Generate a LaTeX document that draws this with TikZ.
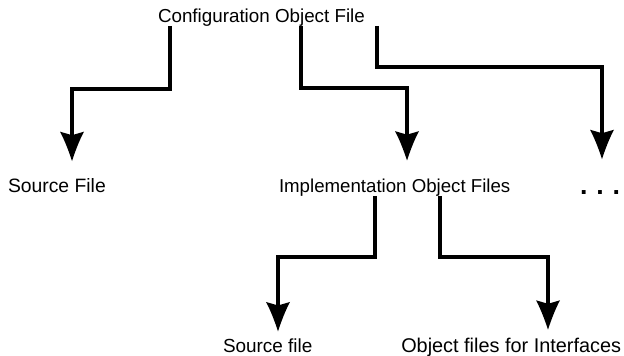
\documentclass[tikz,border=0pt]{standalone}
\usepackage{fontspec}
\setmainfont{Liberation Sans}
\usetikzlibrary{arrows.meta,calc}

% Filled arrow head with slightly concave flanks and a shallow notch at the back
\pgfdeclarearrow{
  name = Barb,
  parameters = {\the\pgfarrowlength,\the\pgfarrowwidth},
  setup code = {
    \pgfarrowssettipend{0pt}
    \pgfarrowssetlineend{-.7\pgfarrowlength}
    \pgfarrowssetbackend{-\pgfarrowlength}
    \pgfarrowshullpoint{0pt}{0pt}
    \pgfarrowshullpoint{-\pgfarrowlength}{.5\pgfarrowwidth}
    \pgfarrowshullpoint{-\pgfarrowlength}{-.5\pgfarrowwidth}
    \pgfarrowssavethe\pgfarrowlength
    \pgfarrowssavethe\pgfarrowwidth
  },
  drawing code = {
    \pgfpathmoveto{\pgfqpoint{0pt}{0pt}}
    \pgfpathcurveto{\pgfpoint{-.3\pgfarrowlength}{.12\pgfarrowwidth}}
                   {\pgfpoint{-.7\pgfarrowlength}{.3\pgfarrowwidth}}
                   {\pgfpoint{-\pgfarrowlength}{.5\pgfarrowwidth}}
    \pgfpathlineto{\pgfpoint{-.88\pgfarrowlength}{0pt}}
    \pgfpathlineto{\pgfpoint{-\pgfarrowlength}{-.5\pgfarrowwidth}}
    \pgfpathcurveto{\pgfpoint{-.7\pgfarrowlength}{-.3\pgfarrowwidth}}
                   {\pgfpoint{-.3\pgfarrowlength}{-.12\pgfarrowwidth}}
                   {\pgfqpoint{0pt}{0pt}}
    \pgfpathclose
    \pgfusepathqfill
  },
  defaults = {length=20pt, width=16pt}
}

\begin{document}
\begin{tikzpicture}[x=0.75pt,y=-0.75pt,
  lbl/.style={font=\fontsize{#1}{17pt}\selectfont, inner sep=0pt, outer sep=0pt},
  lbl/.default=14.5pt,
  conn/.style={line width=2.3pt, -{Barb[length=22pt,width=18pt]}}]
\useasboundingbox (0,0) rectangle (624,355);

% labels
\node[lbl=14.1pt, anchor=base west] (cfg)  at (158,22)  {Configuration Object File};
\node[lbl=14.5pt, anchor=base west] (src)  at (8,192)   {Source File};
\node[lbl=14.0pt, anchor=base west] (impl) at (279,192) {Implementation Object Files};
\node[lbl=20pt, anchor=base] (more) at (600,194)
  {\bfseries .\hspace{6.6pt}.\hspace{6.6pt}.};
\node[lbl=14.2pt, anchor=base west] (src2) at (223,352) {Source file};
\node[lbl=14.9pt, anchor=base east] (obj)  at (621,352) {Object files for Interfaces};

% bends of the connectors
\coordinate (k1) at (170,89);  \coordinate (k2) at (72,89);
\coordinate (m1) at (301,88);  \coordinate (m2) at (407,88);
\coordinate (r1) at (377,67);  \coordinate (r2) at (602,67);
\coordinate (p1) at (375,257); \coordinate (p2) at (278,257);
\coordinate (q1) at (440,257); \coordinate (q2) at (548,257);

% connectors
\draw[conn] (cfg.south -| k1) -- (k1) -- (k2) -- ($(src.north -| k2)+(0,-17)$);
\draw[conn] (cfg.south -| m1) -- (m1) -- (m2) -- ($(impl.north -| m2)+(0,-18)$);
\draw[conn] (cfg.south -| r1) -- (r1) -- (r2) -- ($(more.north -| r2)+(0,-31)$);
\draw[conn] (impl.south -| p1) -- (p1) -- (p2) -- ($(src2.north -| p2)+(0,-7)$);
\draw[conn] (impl.south -| q1) -- (q1) -- (q2) -- ($(obj.north -| q2)+(0,-8)$);
\end{tikzpicture}
\end{document}
